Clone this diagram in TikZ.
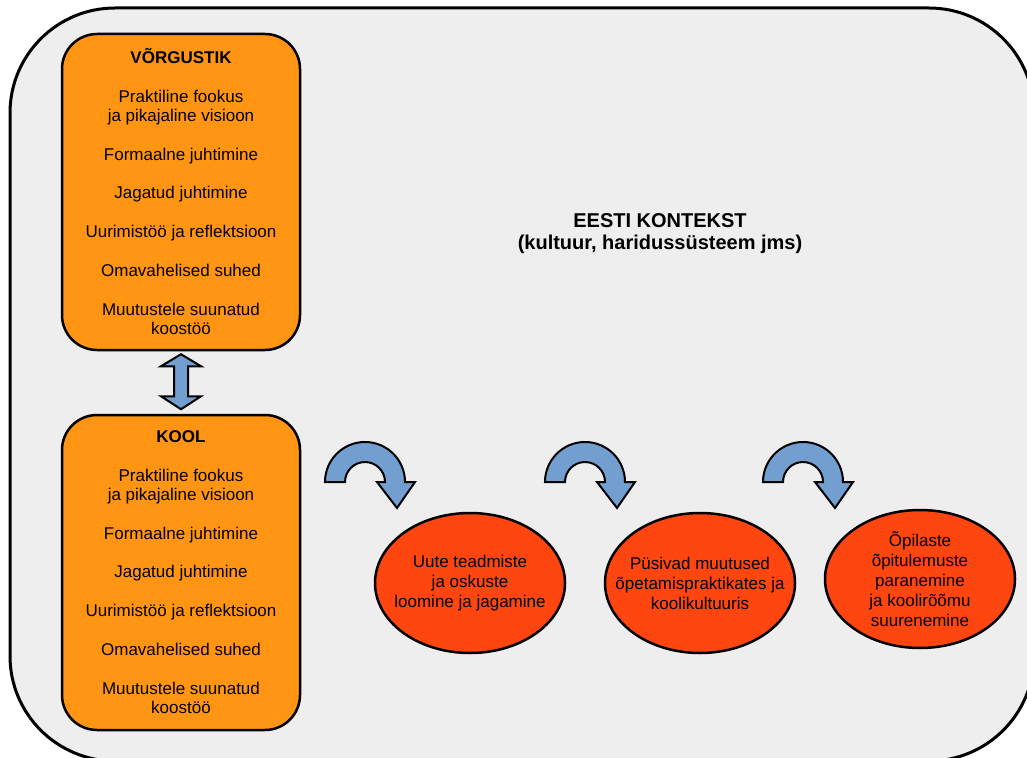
\documentclass[tikz,border=0pt]{standalone}
\usepackage{fontspec}
\setmainfont{Liberation Sans}
\usetikzlibrary{shapes.geometric,calc}
\definecolor{bggrey}{HTML}{EEEEEE}
\definecolor{orbox}{HTML}{FF9512}
\definecolor{ellred}{HTML}{FF4510}
\definecolor{arrblue}{HTML}{729FCF}
\tikzset{
  boxstyle/.style={draw, line width=2.5pt, fill=orbox, rounded corners=35pt,
    minimum width=238pt, minimum height=316pt, inner sep=0pt, align=center,
    font=\fontsize{17}{19}\selectfont},
  ellstyle/.style={ellipse, draw, line width=2.5pt, fill=ellred,
    minimum width=190pt, minimum height=140pt, inner sep=0pt},
  elltext/.style={align=center, font=\fontsize{17}{20}\selectfont, inner sep=0pt},
  blarrow/.style={draw, line width=2pt, fill=arrblue},
  curvarr/.pic={
    \draw[blarrow] (-40,0) arc[start angle=180, end angle=0, radius=40]
      -- (50,0) -- (32,-26) -- (12,0) -- (20,0)
      arc[start angle=0, end angle=180, radius=20] -- cycle;
  }
}
\begin{document}
\begin{tikzpicture}[x=1pt,y=1pt]
\useasboundingbox (0,0) rectangle (1027,-757);
\fill[white] (0,0) rectangle (1027,-757);
\draw[line width=3pt, fill=bggrey, rounded corners=105pt] (10,-8) rectangle (1034,-761);

\node[font=\bfseries\fontsize{20}{22}\selectfont, align=center] (title) at (660,-234)
  {EESTI KONTEKST\\(kultuur, haridussüsteem jms)};

\node[boxstyle] (v) at (181,-192) {\textbf{VÕRGUSTIK}\\[20pt]
  Praktiline fookus\\ja pikajaline visioon\\[20pt]
  Formaalne juhtimine\\[19pt]
  Jagatud juhtimine\\[20pt]
  Uurimistöö ja reflektsioon\\[20pt]
  Omavahelised suhed\\[20pt]
  Muutustele suunatud\\koostöö};

\node[boxstyle, minimum height=315pt] (k) at (181,-572.5) {\textbf{KOOL}\\[20pt]
  Praktiline fookus\\ja pikajaline visioon\\[20pt]
  Formaalne juhtimine\\[19pt]
  Jagatud juhtimine\\[20pt]
  Uurimistöö ja reflektsioon\\[20pt]
  Omavahelised suhed\\[20pt]
  Muutustele suunatud\\koostöö};

\coordinate (dat) at ($(v.south)+(0,-3)$);
\coordinate (dab) at ($(k.north)+(0,4.5)$);
\draw[blarrow] (dat) -- ($(dat)+(20,-12)$) -- ($(dat)+(7,-12)$)
  -- ($(dab)+(7,13)$) -- ($(dab)+(20,13)$) -- (dab)
  -- ($(dab)+(-20,13)$) -- ($(dab)+(-7,13)$)
  -- ($(dat)+(-7,-12)$) -- ($(dat)+(-20,-12)$) -- cycle;

\node[ellstyle] (e1) at (470,-583) {};
\node[elltext] (t1) at (e1) {Uute teadmiste\\ja oskuste\\loomine ja jagamine};
\node[ellstyle] (e2) at (700,-583) {};
\node[elltext] (t2) at (e2) {Püsivad muutused\\õpetamispraktikates ja\\koolikultuuris};
\node[ellstyle, minimum height=138pt] (e3) at (920,-579) {};
\node[elltext] (t3) at (e3) {Õpilaste\\õpitulemuste\\paranemine\\ja koolirõõmu\\suurenemine};

\pic at (365,-482) {curvarr};
\pic at (585,-482) {curvarr};
\pic at (803,-482) {curvarr};
\end{tikzpicture}
\end{document}
